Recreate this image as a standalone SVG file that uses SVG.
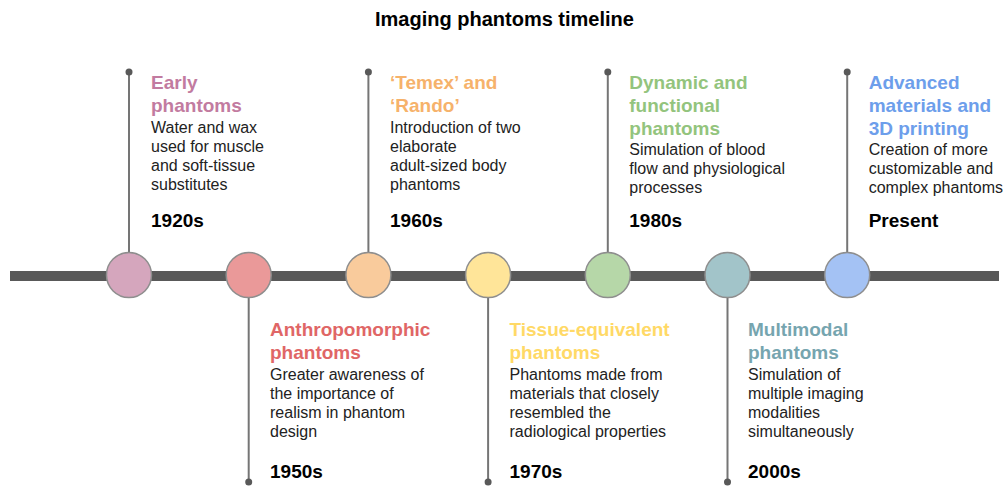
<svg xmlns="http://www.w3.org/2000/svg" width="1003" height="487" viewBox="0 0 1003 487">
<style>
text{font-family:"Liberation Sans",Arial,sans-serif}
.title{font-size:20px;font-weight:bold;fill:#000}
.h{font-size:19px;font-weight:bold}
.b{font-size:16px;fill:#222}
.y{font-size:19px;font-weight:bold;fill:#000}
.stem{stroke:#757575;stroke-width:2}
.dot{fill:#595959}
.c{stroke:#8e8e8e;stroke-width:1.5}
</style>
<rect width="1003" height="487" fill="#fff"/>
<text class="title" x="504.5" y="26" text-anchor="middle">Imaging phantoms timeline</text>
<g id="connectors">
<rect x="10" y="271" width="989" height="10" fill="#595959"/>
<line class="stem" x1="129" y1="72" x2="129" y2="253"/><circle class="dot" cx="129" cy="72" r="3.5"/>
<line class="stem" x1="248.7" y1="297" x2="248.7" y2="482"/><circle class="dot" cx="248.7" cy="482" r="3.5"/>
<line class="stem" x1="368.4" y1="72" x2="368.4" y2="253"/><circle class="dot" cx="368.4" cy="72" r="3.5"/>
<line class="stem" x1="488.1" y1="297" x2="488.1" y2="482"/><circle class="dot" cx="488.1" cy="482" r="3.5"/>
<line class="stem" x1="607.8" y1="72" x2="607.8" y2="253"/><circle class="dot" cx="607.8" cy="72" r="3.5"/>
<line class="stem" x1="727.5" y1="297" x2="727.5" y2="482"/><circle class="dot" cx="727.5" cy="482" r="3.5"/>
<line class="stem" x1="847.2" y1="72" x2="847.2" y2="253"/><circle class="dot" cx="847.2" cy="72" r="3.5"/>
</g>
<g id="n1920">
<circle class="c" cx="129" cy="275" r="22.5" fill="#d5a6bd"/>
<text class="h" fill="#c27ba0"><tspan x="151" y="89">Early</tspan><tspan x="151" y="112">phantoms</tspan></text>
<text class="b"><tspan x="151" y="133">Water and wax</tspan><tspan x="151" y="152">used for muscle</tspan><tspan x="151" y="171">and soft-tissue</tspan><tspan x="151" y="190">substitutes</tspan></text>
<text class="y" x="151" y="227">1920s</text>
</g>
<g id="n1950">
<circle class="c" cx="248.7" cy="275" r="22.5" fill="#ea9999"/>
<text class="h" fill="#e06666"><tspan x="270" y="336">Anthropomorphic</tspan><tspan x="270" y="359">phantoms</tspan></text>
<text class="b"><tspan x="270" y="380">Greater awareness of</tspan><tspan x="270" y="399">the importance of</tspan><tspan x="270" y="418">realism in phantom</tspan><tspan x="270" y="437">design</tspan></text>
<text class="y" x="270" y="478">1950s</text>
</g>
<g id="n1960">
<circle class="c" cx="368.4" cy="275" r="22.5" fill="#f9cb9c"/>
<text class="h" fill="#f6b26b"><tspan x="390" y="89">‘Temex’ and</tspan><tspan x="390" y="112">‘Rando’</tspan></text>
<text class="b"><tspan x="390" y="133">Introduction of two</tspan><tspan x="390" y="152">elaborate</tspan><tspan x="390" y="171">adult-sized body</tspan><tspan x="390" y="190">phantoms</tspan></text>
<text class="y" x="390" y="227">1960s</text>
</g>
<g id="n1970">
<circle class="c" cx="488.1" cy="275" r="22.5" fill="#ffe599"/>
<text class="h" fill="#ffd966"><tspan x="509.5" y="336">Tissue-equivalent</tspan><tspan x="509.5" y="359">phantoms</tspan></text>
<text class="b"><tspan x="509.5" y="380">Phantoms made from</tspan><tspan x="509.5" y="399">materials that closely</tspan><tspan x="509.5" y="418">resembled the</tspan><tspan x="509.5" y="437">radiological properties</tspan></text>
<text class="y" x="509.5" y="478">1970s</text>
</g>
<g id="n1980">
<circle class="c" cx="607.8" cy="275" r="22.5" fill="#b6d7a8"/>
<text class="h" fill="#93c47d"><tspan x="629.3" y="89">Dynamic and</tspan><tspan x="629.3" y="112">functional</tspan><tspan x="629.3" y="135">phantoms</tspan></text>
<text class="b"><tspan x="629.3" y="155">Simulation of blood</tspan><tspan x="629.3" y="174">flow and physiological</tspan><tspan x="629.3" y="193">processes</tspan></text>
<text class="y" x="629.3" y="227">1980s</text>
</g>
<g id="n2000">
<circle class="c" cx="727.5" cy="275" r="22.5" fill="#a2c4c9"/>
<text class="h" fill="#76a5af"><tspan x="748" y="336">Multimodal</tspan><tspan x="748" y="359">phantoms</tspan></text>
<text class="b"><tspan x="748" y="380">Simulation of</tspan><tspan x="748" y="399">multiple imaging</tspan><tspan x="748" y="418">modalities</tspan><tspan x="748" y="437">simultaneously</tspan></text>
<text class="y" x="748" y="478">2000s</text>
</g>
<g id="npresent">
<circle class="c" cx="847.2" cy="275" r="22.5" fill="#a4c2f4"/>
<text class="h" fill="#6d9eeb"><tspan x="868.7" y="89">Advanced</tspan><tspan x="868.7" y="112">materials and</tspan><tspan x="868.7" y="135">3D printing</tspan></text>
<text class="b"><tspan x="868.7" y="155">Creation of more</tspan><tspan x="868.7" y="174">customizable and</tspan><tspan x="868.7" y="193">complex phantoms</tspan></text>
<text class="y" x="868.7" y="227">Present</text>
</g>
</svg>
